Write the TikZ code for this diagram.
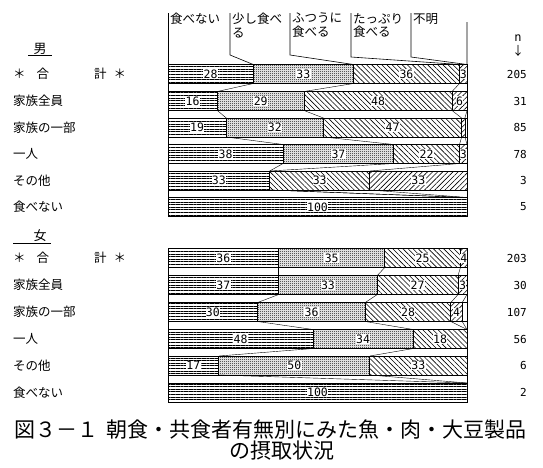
\documentclass[tikz,border=0pt]{standalone}
\usepackage{fontspec}
\setmainfont{Noto Sans CJK JP}
\newfontfamily\numfont{DejaVu Sans Mono}
\usetikzlibrary{patterns}
\usetikzlibrary{patterns.meta}

\tikzdeclarepattern{name=fine dots, type=uncolored,
  bounding box={(0pt,0pt) and (2pt,2pt)}, tile size={(2pt,2pt)},
  code={\pgfpathrectangle{\pgfpointorigin}{\pgfqpoint{1pt}{1pt}}
    \pgfpathrectangle{\pgfqpoint{1pt}{1pt}}{\pgfqpoint{1pt}{1pt}}
    \pgfusepath{fill}}}

\newcommand{\seglabel}[4]{\edef\labtext{#4}\ifx\labtext\empty\else\node[num] (#1) at (#2,#3) {#4};\fi}

\begin{document}
\begin{tikzpicture}[x=1pt,y=-1pt,
	none bar/.style={draw,line width=0.8pt,pattern={Lines[angle=0,distance=2.6pt,line width=0.6pt]}},
	little bar/.style={draw,line width=0.8pt,pattern=fine dots},
	normal bar/.style={draw,line width=0.8pt,pattern={Lines[angle=-45,distance=3.6pt,line width=0.6pt]}},
	plenty bar/.style={draw,line width=0.8pt,pattern={Lines[angle=45,distance=3.6pt,line width=0.6pt]}},
	unknown bar/.style={draw,line width=0.8pt,fill=white},
	num/.style={font=\numfont\fontsize{11.5}{11.5}\selectfont,fill=white,inner sep=0.3pt},
	nlab/.style={anchor=east,inner sep=0pt,font=\numfont\fontsize{11}{11}\selectfont},
	rowlab/.style={anchor=west,inner sep=0pt,font=\fontsize{12.5}{13}\selectfont},
	head/.style={anchor=north west,inner sep=0pt,align=left,font=\fontsize{12.5}{13.5}\selectfont},
	link/.style={line width=0.6pt},
	conn/.style={line width=0.4pt}]
	
	\fill[white] (0,0) rectangle (543,467);
	\useasboundingbox (0,0) rectangle (543,467);
	
	% rows: group/row/top/cuts/labels/n/text
	\foreach \g/\row/\y/\ca/\cb/\cc/\cd/\la/\lb/\lc/\ld/\n/\t in {
		m/1/64.5/28.5/62/97.5/100/28/33/36/3/205/{＊\hspace{11pt}合\hspace{45pt}計\hspace{7pt}＊},
		m/2/91.5/16.5/45.5/95/100/16/29/48/6/31/家族全員,
		m/3/118/19.5/52/98.2/99.3/19/32/47//85/家族の一部,
		m/4/144.5/38.5/75.5/97.5/100/38/37/22/3/78/一人,
		m/5/171/34/34/67.5/100/33//33/33/3/その他,
		m/6/197.5/100/100/100/100/100////5/食べない,
		f/1/248.5/37/72.5/97.8/100/36/35/25/4/203/{＊\hspace{11pt}合\hspace{45pt}計\hspace{7pt}＊},
		f/2/275.5/37/70/97/100/37/33/27/3/30/家族全員,
		f/3/302.5/30/66/94.6/98.4/30/36/28/4/107/家族の一部,
		f/4/329.5/48.5/82/100/100/48/34/18//56/一人,
		f/5/356/17/67.5/100/100/17/50/33//6/その他,
		f/6/383/100/100/100/100/100////2/食べない}{
		\path[none bar] (168,\y) rectangle ({168+2.99*\ca},{\y+19});
		\path[little bar] ({168+2.99*\ca},\y) rectangle ({168+2.99*\cb},{\y+19});
		\path[normal bar] ({168+2.99*\cb},\y) rectangle ({168+2.99*\cc},{\y+19});
		\path[plenty bar] ({168+2.99*\cc},\y) rectangle ({168+2.99*\cd},{\y+19});
		\path[unknown bar] ({168+2.99*\cd},\y) rectangle (467,{\y+19});
		\seglabel{\g\row a}{{168+2.99*\ca/2}}{{\y+9.5}}{\la}
		\seglabel{\g\row b}{{168+2.99*(\ca+\cb)/2}}{{\y+9.5}}{\lb}
		\seglabel{\g\row c}{{168+2.99*(\cb+\cc)/2}}{{\y+9.5}}{\lc}
		\seglabel{\g\row d}{{168+2.99*(\cc+\cd)/2}}{{\y+9.5}}{\ld}
		\node[rowlab] (\g\row l) at (13,{\y+9.5}) {\t};
		\node[nlab] (\g\row n) at (527,{\y+9.5}) {\n};
		\foreach \k/\c in {0/0,1/\ca,2/\cb,3/\cc,4/\cd,5/100}{
			\coordinate (\g\row t\k) at ({168+2.99*\c},\y);
			\coordinate (\g\row b\k) at ({168+2.99*\c},{\y+19});
		}
	}
	
	% lines from one bar to the next
	\foreach \g/\row/\nxt in {m/1/2,m/2/3,m/3/4,m/4/5,m/5/6,f/1/2,f/2/3,f/3/4,f/4/5,f/5/6}
		\foreach \k in {0,...,5}
			\draw[conn] (\g\row b\k) -- (\g\nxt t\k);
	
	% legend
	\node[head] (h1) at (170,13) {食べない};
	\node[head] (h2) at (232,13) {少し食べ\\る};
	\node[head] (h3) at (292,13) {ふつうに\\食べる};
	\node[head] (h4) at (353,13) {たっぷり\\食べる};
	\node[head] (h5) at (413,13) {不明};
	\coordinate (k1) at (168,13);
	\coordinate (k2) at (230,13);
	\coordinate (k3) at (290,13);
	\coordinate (k4) at (351,13);
	\coordinate (k5) at (411,13);
	\coordinate (k6) at (467,22);
	\draw[link] (k1) -- (m1t0);
	\draw[link] (k2) -- ++(0,42) -- (m1t1);
	\draw[link] (k3) -- ++(0,42) -- (m1t2);
	\draw[link] (k4) -- ++(0,44) -- (m1t3);
	\draw[link] (k5) -- ++(0,44) -- (m1t4);
	\draw[link] (k6) -- (m1t5);
	
	\node[font=\numfont\fontsize{12}{12}\selectfont,inner sep=0pt] (nhead) at (518,38) {n};
	\node[font=\fontsize{12}{12}\selectfont,inner sep=0pt] (narrow) at (518,51) {↓};
	
	\node[font=\fontsize{13}{13}\selectfont,inner sep=1pt] (male) at (40,49) {男};
	\draw[line width=0.7pt] ([xshift=-4pt]male.south west) -- ([xshift=4pt]male.south east);
	\node[font=\fontsize{13}{13}\selectfont,inner sep=1pt] (female) at (40,236) {女};
	\draw[line width=0.7pt] ([xshift=-19pt]female.south west) -- ([xshift=3pt]female.south east);
	
	\node[anchor=west,inner sep=0pt,font=\fontsize{21}{21}\selectfont] (title) at (14,429) {図３－１\hspace{0.4em}朝食・共食者有無別にみた魚・肉・大豆製品};
	\node[inner sep=0pt,font=\fontsize{21}{21}\selectfont] (title2) at (282,451) {の摂取状況};
\end{tikzpicture}
\end{document}
